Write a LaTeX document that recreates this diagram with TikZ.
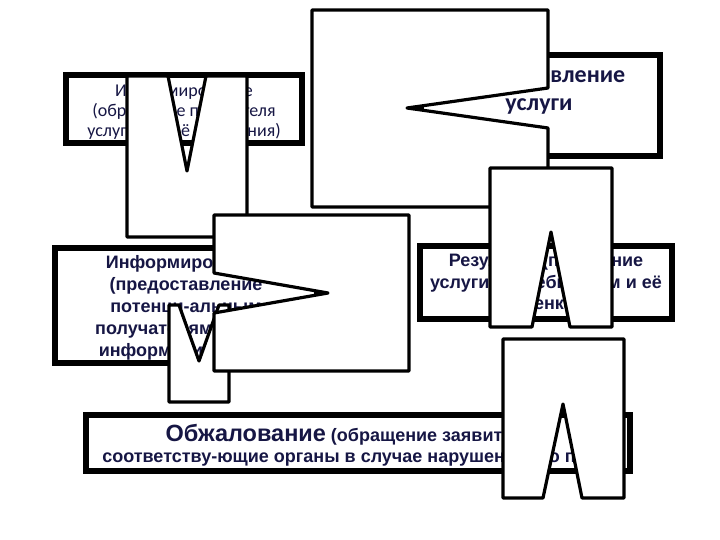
\documentclass[tikz,border=0pt]{standalone}
\usepackage{fontspec}
\setmainfont{Liberation Sans}
\newfontfamily\calfont{Carlito}
\definecolor{txtnavy}{RGB}{22,22,68}
\begin{document}
\begin{tikzpicture}[x=1pt,y=-1pt]
\tikzset{
  tbox/.style={draw=black, line width=6pt, fill=white, inner sep=0pt},
  wshape/.style={draw=black, line width=3.2pt, fill=white, line join=round},
  btxt/.style={text=txtnavy, align=center, inner sep=0pt, font=\fontsize{18}{22}\selectfont\bfseries},
  ctxt/.style={text=txtnavy, align=center, inner sep=0pt, font=\calfont\fontsize{18}{20}\selectfont},
  cbtxt/.style={text=txtnavy, align=center, inner sep=0pt, font=\calfont\bfseries\fontsize{24}{28}\selectfont},
}
\fill[white] (0,0) rectangle (720,540);
\useasboundingbox (0,0) rectangle (720,540);

% thick text boxes
\node[tbox, minimum width=236pt, minimum height=68pt] (b1) at (184,109) {};
\node[tbox, minimum width=239pt, minimum height=101pt] (b2) at (540.5,105.5) {};
\node[tbox, minimum width=262pt, minimum height=115pt] (b3) at (186,305.5) {};
\node[tbox, minimum width=252pt, minimum height=73pt] (b4) at (546,282.5) {};
\node[tbox, minimum width=544pt, minimum height=56pt] (b5) at (358,443) {};

% texts
\node[ctxt] (t1) at (184,111.5) {Информирование\\(обращение получателя\\услуги для её получения)};
\node[cbtxt] (t2) at (539,90.6) {Предоставление\\услуги};
\node[btxt] (t3) at (186,307.4) {Информирование\\(предоставление\\потенци-альным\\получателям услуги\\информации о ней)};
\node[btxt, font=\fontsize{18}{21.5}\selectfont\bfseries] (t4) at (546,283.6) {Результат (получение\\услуги потребителем и её\\оценка)};
\node[btxt, font=\fontsize{18}{21}\selectfont\bfseries] (t5) at (358,445.5) {{\fontsize{23.5}{23.5}\selectfont Обжалование} (обращение заявителя в\\соответству-ющие органы в случае нарушения его прав)};

% white notched shapes
\path[wshape] (127,76) -- (168,76) -- (187,171) -- (206,76) -- (247,76) -- (247,237) -- (127,237) -- cycle;
\path[wshape] (312,10) -- (548,10) -- (548,88) -- (407,108) -- (548,128) -- (548,207) -- (312,207) -- cycle;
\path[wshape] (490,168) -- (612,168) -- (612,327) -- (570,327) -- (551,232) -- (532,327) -- (490,327) -- cycle;
\path[wshape] (169,305) -- (179,305) -- (199,361) -- (219,305) -- (229,305) -- (229,402) -- (169,402) -- cycle;
\path[wshape] (214,215) -- (409,215) -- (409,371) -- (214,371) -- (214,313) -- (328,293) -- (214,273) -- cycle;
\path[wshape] (503,339) -- (624,339) -- (624,498) -- (582,498) -- (563,404) -- (543,498) -- (503,498) -- cycle;
\end{tikzpicture}
\end{document}
